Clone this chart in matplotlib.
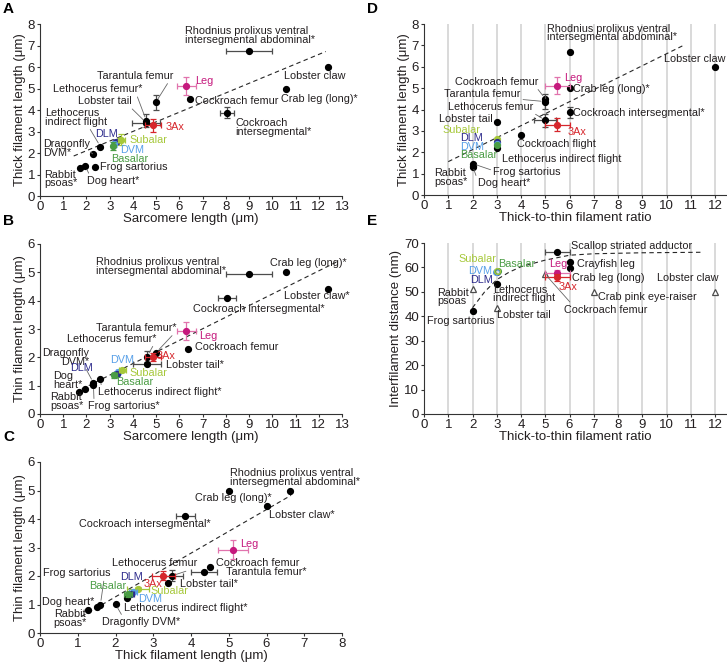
"""
Filament lengths / ratios across muscles - five scatter panels (A-E)
"""

import matplotlib
matplotlib.use("Agg")
import matplotlib.pyplot as plt

plt.rcParams["font.family"] = ["Liberation Sans", "DejaVu Sans"]

# ---------------- data ----------------
# A: sarcomere length vs thick filament length (um)
a_names = ["Rhodnius", "Lobster claw", "Crab leg", "Leg", "Cockroach femur",
           "Cockroach intersegmental", "Tarantula femur", "Lethocerus femur",
           "Lobster tail", "3Ax", "DLM", "Subalar", "DVM", "Basalar",
           "Lethocerus IFM", "Dragonfly DVM", "Frog sartorius", "Dog heart", "Rabbit psoas"]
a_x = [9.0, 12.4, 10.6, 6.3, 6.45, 8.05, 4.98, 4.58, 4.58, 4.87, 3.28, 3.5, 3.18, 3.15,
       2.6, 2.27, 2.38, 1.94, 1.72]
a_y = [6.75, 6.0, 5.0, 5.12, 4.52, 3.87, 4.35, 3.5, 3.4, 3.28, 2.5, 2.62, 2.4, 2.33,
       2.3, 1.96, 1.37, 1.41, 1.29]
a_xerr = [1.0, 0, 0, 0.4, 0, 0.3, 0, 0, 0.6, 0.35, 0.08, 0.15, 0.08, 0.05, 0, 0, 0, 0, 0]
a_yerr = [0, 0, 0, 0.4, 0, 0.25, 0.33, 0.3, 0, 0.3, 0.1, 0.25, 0.1, 0.2, 0, 0, 0, 0, 0]
a_fit_x = [1.45, 12.3]
a_fit_y = [1.86, 6.72]

# B: sarcomere length vs thin filament length (um)
b_names = ["Rhodnius", "Crab leg", "Lobster claw", "Cockroach intersegmental", "Leg",
           "Cockroach femur", "Tarantula femur", "Lethocerus femur", "3Ax", "Lobster tail",
           "DVM", "DLM", "Subalar", "Basalar", "Lethocerus IFM", "Dragonfly DVM",
           "Frog sartorius", "Dog heart", "Rabbit psoas"]
b_x = [9.0, 10.6, 12.4, 8.05, 6.3, 6.35, 5.0, 4.6, 4.88, 4.6, 3.35, 3.3, 3.55, 3.2,
       2.6, 2.3, 2.3, 1.95, 1.7]
b_y = [4.93, 5.0, 4.4, 4.1, 2.93, 2.31, 2.17, 2.02, 2.01, 1.75, 1.47, 1.42, 1.55, 1.36,
       1.23, 1.1, 1.02, 0.9, 0.78]
b_xerr = [1.0, 0, 0, 0.4, 0.4, 0, 0, 0, 0.35, 0.6, 0.1, 0.1, 0.15, 0.1, 0, 0, 0, 0, 0]
b_yerr = [0, 0, 0, 0, 0.33, 0, 0, 0.2, 0.15, 0, 0.05, 0.05, 0.05, 0.08, 0, 0, 0, 0, 0]
b_fit_x = [1.8, 12.8]
b_fit_y = [0.88, 5.38]

# C: thick filament length vs thin filament length (um)
c_names = ["Rhodnius", "Crab leg", "Lobster claw", "Cockroach intersegmental", "Leg",
           "Cockroach femur", "Tarantula femur", "Lethocerus femur", "3Ax", "Lobster tail",
           "Subalar", "DVM", "DLM", "Basalar", "Lethocerus IFM", "Dragonfly DVM",
           "Frog sartorius", "Dog heart", "Rabbit psoas"]
c_x = [6.62, 5.0, 6.0, 3.85, 5.12, 4.5, 4.35, 3.5, 3.27, 3.4, 2.6, 2.47, 2.4, 2.33,
       2.3, 2.0, 1.6, 1.52, 1.28]
c_y = [4.98, 5.0, 4.45, 4.1, 2.92, 2.3, 2.13, 2.01, 2.01, 1.75, 1.55, 1.44, 1.38, 1.36,
       1.23, 1.01, 1.0, 0.92, 0.79]
c_xerr = [0, 0, 0, 0.25, 0.4, 0, 0.35, 0.3, 0.3, 0, 0.3, 0.1, 0.1, 0.1, 0, 0, 0, 0, 0]
c_yerr = [0, 0, 0, 0, 0.33, 0, 0, 0.2, 0.15, 0, 0.05, 0.05, 0.05, 0.08, 0, 0, 0, 0, 0]
c_fit_x = [1.1, 6.65]
c_fit_y = [0.58, 4.83]

# D: thick-to-thin filament ratio vs thick filament length (um)
d_names = ["Rhodnius", "Lobster claw", "Leg", "Crab leg", "Cockroach femur", "Tarantula femur",
           "Lethocerus femur", "Cockroach intersegmental", "3Ax", "Lobster tail",
           "Cockroach flight", "Subalar", "DLM", "DVM", "Basalar", "Lethocerus IFM",
           "Frog sartorius", "Dog heart", "Rabbit psoas"]
d_x = [6, 12, 5.5, 6, 5, 5, 5, 6, 5.5, 3, 4, 3, 3, 3, 3, 3, 2, 2, 2]
d_y = [6.7, 6.0, 5.12, 5.0, 4.5, 4.37, 3.5, 3.87, 3.28, 3.4, 2.8, 2.62, 2.5, 2.4, 2.33,
       2.2, 1.47, 1.38, 1.3]
d_xerr = [0, 0, 0.5, 0, 0, 0, 0.45, 0, 0.5, 0, 0, 0, 0, 0, 0, 0, 0, 0, 0]
d_yerr = [0, 0, 0.4, 0, 0, 0.35, 0.3, 0.25, 0.3, 0, 0, 0, 0, 0, 0, 0, 0, 0, 0]
d_fit_x = [1.0, 10.75]
d_fit_y = [1.56, 7.03]

# E: thick-to-thin filament ratio vs interfilament distance (nm)
e_names = ["Scallop", "Crayfish leg", "Crab leg", "Leg", "3Ax", "Cockroach femur",
           "Crab pink eye-raiser", "Lobster claw", "Lobster tail", "Rabbit psoas",
           "Frog sartorius", "Lethocerus IFM", "DLM", "DVM", "Basalar", "Subalar"]
e_x = [5.5, 6, 6, 5.5, 5.5, 5, 7, 12, 3, 2, 2, 3, 3, 2.97, 3.05, 3.02]
e_y = [66.5, 62.3, 59.6, 57.8, 56.0, 57.2, 50.0, 50.0, 43.5, 51.0, 42.2, 53.2, 58.0,
       58.3, 58.6, 58.4]
e_xerr = [0.5, 0, 0, 0.5, 0.5, 0, 0, 0, 0, 0, 0, 0, 0, 0, 0, 0]
e_yerr = [0, 0, 0, 1.0, 1.5, 0, 0, 0, 0, 0, 0, 0, 0, 0, 0, 0]
e_open = [False, False, False, False, False, True, True, True, True, True,
          False, False, True, True, True, True]
e_fit_x = [2.0, 2.5, 3.0, 3.5, 4.0, 5.0, 6.0, 7.0, 9.0, 11.4]
e_fit_y = [43.5, 50.0, 55.0, 58.0, 60.3, 63.0, 65.0, 65.6, 66.0, 66.2]

COLORS = {"Leg": "#c5197d", "3Ax": "#d6262c", "DLM": "#2d2b8c", "DVM": "#58a0e8",
          "Subalar": "#a6c83a", "Basalar": "#4a9c44"}
ERR_COLORS = {"Leg": "#e173ad", "3Ax": "#d6262c", "DLM": "#2d2b8c", "DVM": "#58a0e8",
              "Subalar": "#a6c83a", "Basalar": "#4a9c44"}
TEXT = "#231f20"
LABEL_FS = 7.8
TICK_FS = 9.5


def draw_points(ax, names, xs, ys, xerr, yerr, fit_x, fit_y, open_pts=None):
    ax.plot(fit_x, fit_y, ls=(0, (4, 3)), color="0.15", lw=0.8, zorder=2)
    pos = {}
    # black points first so the coloured ones sit on top
    order = sorted(range(len(names)), key=lambda i: names[i] in COLORS)
    for i in order:
        n = names[i]
        c = COLORS.get(n, "black")
        z = 5 if n in COLORS else 4
        if xerr[i] or yerr[i]:
            ax.errorbar(xs[i], ys[i], xerr=xerr[i] or None, yerr=yerr[i] or None,
                        fmt="none", ecolor=ERR_COLORS.get(n, "0.3"), elinewidth=0.9,
                        capsize=2.2, capthick=0.9, zorder=z)
        if open_pts is not None and open_pts[i]:
            mk = "o" if n in COLORS else "^"
            ax.plot(xs[i], ys[i], mk, ms=4.2, mfc="white" if n not in COLORS else "none",
                    mec=c if n in COLORS else "0.3", mew=0.9, zorder=z)
        else:
            ax.plot(xs[i], ys[i], "o", ms=4.2, color=c, zorder=z)
        pos[n] = (xs[i], ys[i])
    return pos


def put_labels(ax, pos, labels):
    for text, name, tx, ty, ha, rel in labels:
        col = COLORS.get(name, TEXT)
        if rel is None:
            ax.text(tx, ty, text, ha=ha, va="center", color=col, fontsize=LABEL_FS,
                    linespacing=0.85, multialignment=ha, zorder=6)
        else:
            ax.annotate(text, xy=pos[name], xytext=(tx, ty), ha=ha, va="center",
                        color=col, fontsize=LABEL_FS, linespacing=0.85, zorder=6,
                        multialignment=ha,
                        arrowprops=dict(arrowstyle="-", color="0.4", lw=0.6,
                                        shrinkA=0, shrinkB=3, relpos=rel))


def style_axes(ax, xlim, ylim, xticks, yticks, xlabel, ylabel, grid=False):
    ax.set_xlim(*xlim)
    ax.set_ylim(*ylim)
    ax.set_xticks(xticks)
    ax.set_yticks(yticks)
    for s in ("top", "right"):
        ax.spines[s].set_visible(False)
    for s in ("left", "bottom"):
        ax.spines[s].set_linewidth(0.8)
        ax.spines[s].set_color("0.2")
    ax.tick_params(labelsize=TICK_FS, length=2.5, width=0.8, pad=1, colors="0.2",
                   labelcolor=TEXT)
    ax.set_xlabel(xlabel, fontsize=TICK_FS, labelpad=0, color=TEXT)
    ax.set_ylabel(ylabel, fontsize=TICK_FS, labelpad=1.5, color=TEXT)
    if grid:
        for v in xticks[1:]:
            ax.axvline(v, color="#cfcfcf", lw=1.1, zorder=0)


fig = plt.figure(figsize=(7.27, 6.63), dpi=100)
W, H = 727.0, 663.0


def add_axes(x0, x1, ytop, ybot):
    return fig.add_axes([x0 / W, 1 - ybot / H, (x1 - x0) / W, (ybot - ytop) / H])


axA = add_axes(40, 342, 24, 196)
axB = add_axes(40, 342, 244, 414)
axC = add_axes(40, 342, 462, 633)
axD = add_axes(424, 726, 24, 195)
axE = add_axes(424, 726, 243, 414)

# ---- A ----
pos = draw_points(axA, a_names, a_x, a_y, a_xerr, a_yerr, a_fit_x, a_fit_y)
style_axes(axA, (0, 13), (0, 8), range(0, 14), range(0, 9),
           "Sarcomere length (μm)", "Thick filament length (μm)")
put_labels(axA, pos, [
    ("Rhodnius prolixus ventral\nintersegmental abdominal*", "Rhodnius", 6.25, 7.48, "left", None),
    ("Lobster claw", "Lobster claw", 10.52, 5.59, "left", None),
    ("Crab leg (long)*", "Crab leg", 10.39, 4.52, "left", None),
    ("Leg", "Leg", 6.68, 5.37, "left", None),
    ("Cockroach femur", "Cockroach femur", 6.68, 4.41, "left", None),
    ("Cockroach\nintersegmental*", "Cockroach intersegmental", 8.4, 3.2, "left", None),
    ("Tarantula femur", "Tarantula femur", 2.44, 5.59, "left", (0.95, 0)),
    ("Lethocerus femur*", "Lethocerus femur", 0.57, 4.97, "left", (0.93, 0)),
    ("Lobster tail", "Lobster tail", 1.65, 4.41, "left", (0.95, 0)),
    ("Lethocerus\nindirect flight", "Lethocerus IFM", 0.22, 3.66, "left", (0.7, 0)),
    ("3Ax", "3Ax", 5.42, 3.23, "left", None),
    ("DLM", "DLM", 2.37, 2.89, "left", None),
    ("Subalar", "Subalar", 3.85, 2.61, "left", None),
    ("DVM", "DVM", 3.45, 2.14, "left", None),
    ("Basalar", "Basalar", 3.06, 1.71, "left", None),
    ("Dragonfly\nDVM*", "Dragonfly DVM", 0.14, 2.22, "left", (1.0, 0.3)),
    ("Frog sartorius", "Frog sartorius", 2.59, 1.34, "left", None),
    ("Dog heart*", "Dog heart", 2.04, 0.70, "left", (0.05, 1)),
    ("Rabbit\npsoas*", "Rabbit psoas", 0.17, 0.79, "left", None),
])

# ---- B ----
pos = draw_points(axB, b_names, b_x, b_y, b_xerr, b_yerr, b_fit_x, b_fit_y)
style_axes(axB, (0, 13), (0, 6), range(0, 14), range(0, 7),
           "Sarcomere length (μm)", "Thin filament length (μm)")
put_labels(axB, pos, [
    ("Rhodnius prolixus ventral\nintersegmental abdominal*", "Rhodnius", 2.4, 5.21, "left", None),
    ("Crab leg (long)*", "Crab leg", 9.91, 5.33, "left", None),
    ("Lobster claw*", "Lobster claw", 10.49, 4.15, "left", None),
    ("Cockroach intersegmental*", "Cockroach intersegmental", 6.57, 3.71, "left", None),
    ("Tarantula femur*", "Tarantula femur", 2.4, 3.04, "left", (0.98, 0)),
    ("Leg", "Leg", 6.87, 2.74, "left", None),
    ("Lethocerus femur*", "Lethocerus femur", 1.15, 2.66, "left", (0.98, 0)),
    ("Cockroach femur", "Cockroach femur", 6.68, 2.36, "left", None),
    ("Dragonfly\nDVM*", "Dragonfly DVM", 2.13, 2.0, "right", (0.9, 0)),
    ("3Ax", "3Ax", 5.03, 2.04, "left", None),
    ("DVM", "DVM", 3.02, 1.92, "left", None),
    ("Lobster tail*", "Lobster tail", 5.42, 1.72, "left", None),
    ("DLM", "DLM", 1.29, 1.62, "left", None),
    ("Subalar", "Subalar", 3.84, 1.45, "left", None),
    ("Dog\nheart*", "Dog heart", 0.57, 1.19, "left", None),
    ("Basalar", "Basalar", 3.28, 1.13, "left", None),
    ("Lethocerus indirect flight*", "Lethocerus IFM", 2.49, 0.76, "left", (0.03, 1)),
    ("Rabbit\npsoas*", "Rabbit psoas", 0.43, 0.45, "left", None),
    ("Frog sartorius*", "Frog sartorius", 2.08, 0.27, "left", (0.08, 1)),
])

# ---- C ----
pos = draw_points(axC, c_names, c_x, c_y, c_xerr, c_yerr, c_fit_x, c_fit_y)
style_axes(axC, (0, 8), (0, 6), range(0, 9), range(0, 7),
           "Thick filament length (μm)", "Thin filament length (μm)")
put_labels(axC, pos, [
    ("Rhodnius prolixus ventral\nintersegmental abdominal*", "Rhodnius", 5.04, 5.47, "left", None),
    ("Crab leg (long)*", "Crab leg", 4.11, 4.74, "left", None),
    ("Lobster claw*", "Lobster claw", 6.06, 4.14, "left", None),
    ("Cockroach intersegmental*", "Cockroach intersegmental", 1.03, 3.84, "left", None),
    ("Leg", "Leg", 5.29, 3.14, "left", None),
    ("Lethocerus femur", "Lethocerus femur", 1.9, 2.44, "left", (0.97, 0)),
    ("Cockroach femur", "Cockroach femur", 4.66, 2.44, "left", None),
    ("Tarantula femur*", "Tarantula femur", 4.92, 2.13, "left", None),
    ("Frog sartorius", "Frog sartorius", 0.09, 2.09, "left", (0.9, 0)),
    ("DLM", "DLM", 2.12, 1.98, "left", None),
    ("3Ax", "3Ax", 2.74, 1.72, "left", None),
    ("Lobster tail*", "Lobster tail", 3.71, 1.72, "left", None),
    ("Basalar", "Basalar", 1.31, 1.66, "left", None),
    ("Subalar", "Subalar", 2.92, 1.49, "left", None),
    ("DVM", "DVM", 2.59, 1.2, "left", None),
    ("Dog heart*", "Dog heart", 0.04, 1.08, "left", None),
    ("Lethocerus indirect flight*", "Lethocerus IFM", 2.23, 0.88, "left", None),
    ("Rabbit\npsoas*", "Rabbit psoas", 1.22, 0.52, "right", None),
    ("Dragonfly DVM*", "Dragonfly DVM", 1.64, 0.38, "left", (0.27, 1)),
])

# ---- D ----
pos = draw_points(axD, d_names, d_x, d_y, d_xerr, d_yerr, d_fit_x, d_fit_y)
style_axes(axD, (0, 12.45), (0, 8), list(range(0, 13)), range(0, 9),
           "Thick-to-thin filament ratio", "Thick filament length (μm)", grid=True)
put_labels(axD, pos, [
    ("Rhodnius prolixus ventral\nintersegmental abdominal*", "Rhodnius", 5.06, 7.58, "left", None),
    ("Lobster claw", "Lobster claw", 9.9, 6.36, "left", None),
    ("Leg", "Leg", 5.77, 5.48, "left", None),
    ("Cockroach femur", "Cockroach femur", 1.28, 5.3, "left", (0.97, 0)),
    ("Crab leg (long)*", "Crab leg", 6.16, 4.97, "left", None),
    ("Tarantula femur", "Tarantula femur", 0.82, 4.72, "left", (0.97, 0)),
    ("Lethocerus femur", "Lethocerus femur", 1.0, 4.14, "left", (0.97, 0)),
    ("Cockroach intersegmental*", "Cockroach intersegmental", 6.16, 3.83, "left", None),
    ("Lobster tail", "Lobster tail", 0.62, 3.56, "left", None),
    ("Subalar", "Subalar", 0.76, 3.02, "left", None),
    ("3Ax", "3Ax", 5.91, 2.95, "left", None),
    ("DLM", "DLM", 1.48, 2.66, "left", None),
    ("Cockroach flight", "Cockroach flight", 3.82, 2.38, "left", None),
    ("DVM", "DVM", 1.48, 2.23, "left", None),
    ("Basalar", "Basalar", 1.48, 1.86, "left", None),
    ("Lethocerus indirect flight", "Lethocerus IFM", 3.2, 1.67, "left", None),
    ("Frog sartorius", "Frog sartorius", 2.86, 1.09, "left", (0, 0.6)),
    ("Rabbit\npsoas*", "Rabbit psoas", 0.41, 0.81, "left", None),
    ("Dog heart*", "Dog heart", 2.21, 0.55, "left", (0, 0.8)),
])

# ---- E ----
pos = draw_points(axE, e_names, e_x, e_y, e_xerr, e_yerr, e_fit_x, e_fit_y, open_pts=e_open)
style_axes(axE, (0, 12.45), (0, 70), list(range(0, 13)), range(0, 71, 10),
           "Thick-to-thin filament ratio", "Interfilament distance (nm)", grid=True)
put_labels(axE, pos, [
    ("Scallop striated adductor", "Scallop", 6.05, 68.6, "left", None),
    ("Subalar", "Subalar", 1.44, 63.4, "left", None),
    ("Basalar", "Basalar", 3.07, 61.4, "left", None),
    ("Leg", "Leg", 5.15, 61.4, "left", None),
    ("Crayfish leg", "Crayfish leg", 6.3, 61.5, "left", None),
    ("DVM", "DVM", 1.8, 58.7, "left", None),
    ("DLM", "DLM", 1.9, 54.7, "left", None),
    ("Crab leg (long)", "Crab leg", 6.1, 55.7, "left", None),
    ("3Ax", "3Ax", 5.53, 52.0, "left", None),
    ("Lobster claw", "Lobster claw", 9.62, 55.7, "left", None),
    ("Rabbit\npsoas", "Rabbit psoas", 0.55, 47.9, "left", None),
    ("Lethocerus\nindirect flight", "Lethocerus IFM", 2.86, 49.1, "left", None),
    ("Crab pink eye-raiser", "Crab pink eye-raiser", 7.19, 47.7, "left", None),
    ("Cockroach femur", "Cockroach femur", 5.77, 42.7, "left", (0.1, 1)),
    ("Lobster tail", "Lobster tail", 3.0, 40.7, "left", None),
    ("Frog sartorius", "Frog sartorius", 0.11, 37.9, "left", None),
])

# panel letters
for letter, px, py in [("A", 3, 2), ("B", 3, 214), ("C", 3, 430), ("D", 367, 2), ("E", 367, 214)]:
    fig.text(px / W, 1 - py / H, letter, fontsize=11, fontweight="bold", va="top", ha="left",
             color="black")

fig.savefig("out.png", dpi=100)
plt.close(fig)
